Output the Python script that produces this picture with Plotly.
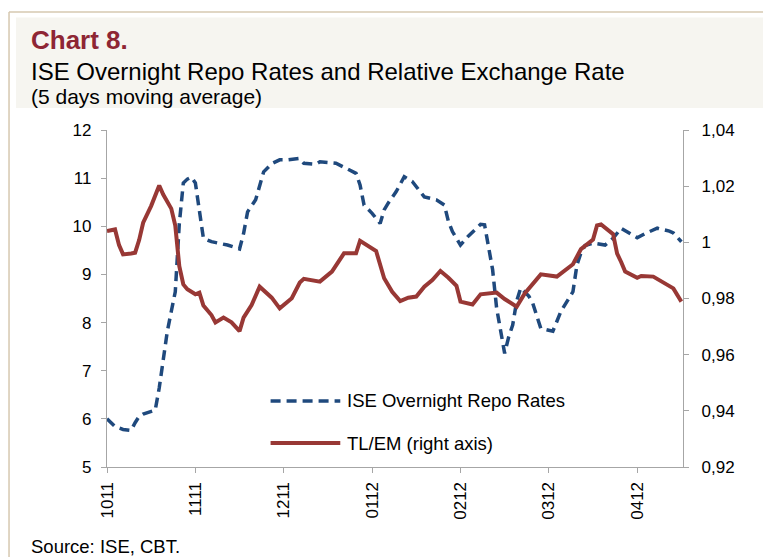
import plotly.graph_objects as go

# ---------------- data ----------------
month_labels = ["1011", "1111", "1211", "0112", "0212", "0312", "0412"]
month_ticks = [0, 22, 44, 66, 88, 110, 132]

repo_days = [0, 2, 4, 6, 7, 8, 9, 12, 13, 14, 15, 16, 17, 18, 19, 20, 21, 22, 23, 24,
             26, 30, 33, 34, 35, 36, 37, 39, 40, 41, 43, 45, 48, 49, 52, 53, 57, 60,
             62, 63, 64, 66, 68, 69, 70, 72, 74, 76, 79, 82, 84, 85, 86, 88, 90, 92,
             93, 94, 95, 96, 97, 98, 99, 100, 101, 102, 103, 105, 106, 108, 111, 113,
             116, 117, 118, 119, 121, 124, 126, 128, 132, 134, 137, 140, 141, 143]
repo_rates = [6.00, 5.84, 5.78, 5.76, 5.92, 6.05, 6.10, 6.18, 6.64, 7.26, 7.81, 8.23, 8.64,
              10.05, 10.90, 10.98, 11.02, 10.90, 10.30, 9.75,
              9.68, 9.61, 9.53, 9.85, 10.30, 10.41, 10.55, 11.13, 11.22, 11.30, 11.38,
              11.38, 11.41, 11.31, 11.29, 11.34, 11.31, 11.18,
              11.10, 10.86, 10.44, 10.27, 10.06, 10.34, 10.48, 10.72, 11.03, 10.93,
              10.61, 10.55, 10.44, 10.10, 9.89, 9.61, 9.80, 9.96,
              10.04, 10.03, 9.61, 9.10, 8.30, 7.80, 7.36, 7.70, 7.95, 8.45, 8.72, 8.55,
              8.40, 7.88, 7.82, 8.23,
              8.64, 9.20, 9.45, 9.60, 9.65, 9.61, 9.75, 9.96, 9.76, 9.85, 9.96, 9.90,
              9.86, 9.68]

tlem_days = [0, 2, 3, 4, 6, 7, 8, 9, 11, 13, 14, 16, 17, 18, 19, 20, 22, 23, 24, 26, 27,
             29, 31, 33, 34, 36, 38, 41, 43, 46, 48, 49, 53, 56, 59, 62, 63, 65, 67,
             69, 71, 73, 75, 77, 79, 81, 83, 85, 87, 88, 91, 93, 95, 97, 99, 102, 104,
             106, 108, 112, 114, 116, 118, 120, 121, 122, 123, 126, 127, 128, 129,
             132, 133, 136, 138, 141, 143]
tlem_rates = [1.0040, 1.0046, 0.9990, 0.9957, 0.9960, 0.9963, 1.0008, 1.0070, 1.0130,
              1.0202, 1.0170, 1.0120, 1.0060, 0.9915, 0.9850, 0.9833, 0.9815, 0.9821,
              0.9775, 0.9741, 0.9715,
              0.9732, 0.9715, 0.9684, 0.9732, 0.9777, 0.9842, 0.9803, 0.9765, 0.9801,
              0.9857, 0.9870, 0.9860, 0.9896, 0.9961, 0.9961, 1.0005, 0.9985, 0.9969,
              0.9872, 0.9824, 0.9791, 0.9803, 0.9807, 0.9842, 0.9866, 0.9898, 0.9874,
              0.9845, 0.9789, 0.9779, 0.9815, 0.9818, 0.9821, 0.9798, 0.9771, 0.9818,
              0.9851, 0.9886, 0.9878, 0.9901, 0.9922, 0.9976, 1.0000, 1.0010, 1.0060,
              1.0064, 1.0029, 0.9960, 0.9930, 0.9896,
              0.9874, 0.9880, 0.9878, 0.9860, 0.9836, 0.9789]

left_ticks = [5, 6, 7, 8, 9, 10, 11, 12]
right_ticks = [0.92, 0.94, 0.96, 0.98, 1.00, 1.02, 1.04]
right_labels = ["0,92", "0,94", "0,96", "0,98", "1", "1,02", "1,04"]

# ---------------- style ----------------
FONT = "Liberation Sans, Arial, sans-serif"
BLUE = "#1F497D"
RED = "#983835"
AXIS = "#A6A6A6"

fig = go.Figure()
fig.add_trace(go.Scatter(x=repo_days, y=repo_rates, mode="lines",
                         name="ISE Overnight Repo Rates",
                         line=dict(color=BLUE, width=3.5, dash="10px,6px"),
                         yaxis="y", showlegend=False))
fig.add_trace(go.Scatter(x=tlem_days, y=tlem_rates, mode="lines",
                         name="TL/EM (right axis)",
                         line=dict(color=RED, width=4),
                         yaxis="y2", showlegend=False))

# page body has an 8px margin, so the figure is 8px smaller and margins shifted
fig.update_layout(
    width=763, height=549,
    margin=dict(l=99, r=88, t=122, b=90, pad=0),
    paper_bgcolor="white", plot_bgcolor="white",
    font=dict(family=FONT, size=17, color="#000000"),
    xaxis=dict(range=[0, 143.4], tickvals=month_ticks, ticktext=month_labels,
               tickangle=-90, ticks="outside", ticklen=5, tickcolor=AXIS,
               showline=True, linecolor=AXIS, linewidth=1.3, showgrid=False,
               zeroline=False, tickfont=dict(size=17), ticklabelstandoff=2),
    yaxis=dict(range=[5, 12], tickvals=left_ticks, ticks="outside", ticklen=5,
               tickcolor=AXIS, showline=True, linecolor=AXIS, linewidth=1.3,
               showgrid=False, zeroline=False, tickfont=dict(size=17),
               ticklabelstandoff=6),
    yaxis2=dict(range=[0.92, 1.04], tickvals=right_ticks, ticktext=right_labels,
                overlaying="y", side="right", ticks="outside", ticklen=5,
                tickcolor=AXIS, showline=True, linecolor=AXIS, linewidth=1.3,
                showgrid=False, zeroline=False, tickfont=dict(size=17),
                ticklabelstandoff=9),
)

# frame and header band
shapes = [
    dict(type="rect", xref="paper", yref="paper", x0=-0.158, x1=1.2, y0=1.0653, y1=1.3338,
         fillcolor="#F6F5F0", line=dict(width=0), layer="below"),
    dict(type="line", xref="paper", yref="paper", x0=-0.1701, x1=1.2, y0=1.3501, y1=1.3501,
         line=dict(color="#D6C8B0", width=1.5)),
    dict(type="line", xref="paper", yref="paper", x0=-0.1701, x1=-0.1701, y0=-0.45, y1=1.3501,
         line=dict(color="#D6C8B0", width=1.5)),
    # legend keys
    dict(type="line", xref="paper", yref="paper", x0=0.284, x1=0.405, y0=0.196, y1=0.196,
         line=dict(color=BLUE, width=3.5, dash="10px,6px")),
    dict(type="line", xref="paper", yref="paper", x0=0.284, x1=0.405, y0=0.071, y1=0.071,
         line=dict(color=RED, width=4)),
]
fig.update_layout(shapes=shapes)

annotations = [
    dict(text="<b>Chart 8.</b>", x=-0.1335, y=1.2656, font=dict(size=26, color="#8E2634")),
    dict(text="ISE Overnight Repo Rates and Relative Exchange Rate", x=-0.1335, y=1.1736,
         font=dict(size=24)),
    dict(text="(5 days moving average)", x=-0.1335, y=1.098, font=dict(size=21)),
    dict(text="Source: ISE, CBT.", x=-0.1335, y=-0.2359, font=dict(size=18.5)),
    dict(text="ISE Overnight Repo Rates", x=0.4155, y=0.196, font=dict(size=18.5)),
    dict(text="TL/EM (right axis)", x=0.4155, y=0.071, font=dict(size=18.5)),
]
for a in annotations:
    a.update(xref="paper", yref="paper", xanchor="left", yanchor="middle",
             showarrow=False, borderpad=0)
fig.update_layout(annotations=annotations)

fig.write_html("out.html")
